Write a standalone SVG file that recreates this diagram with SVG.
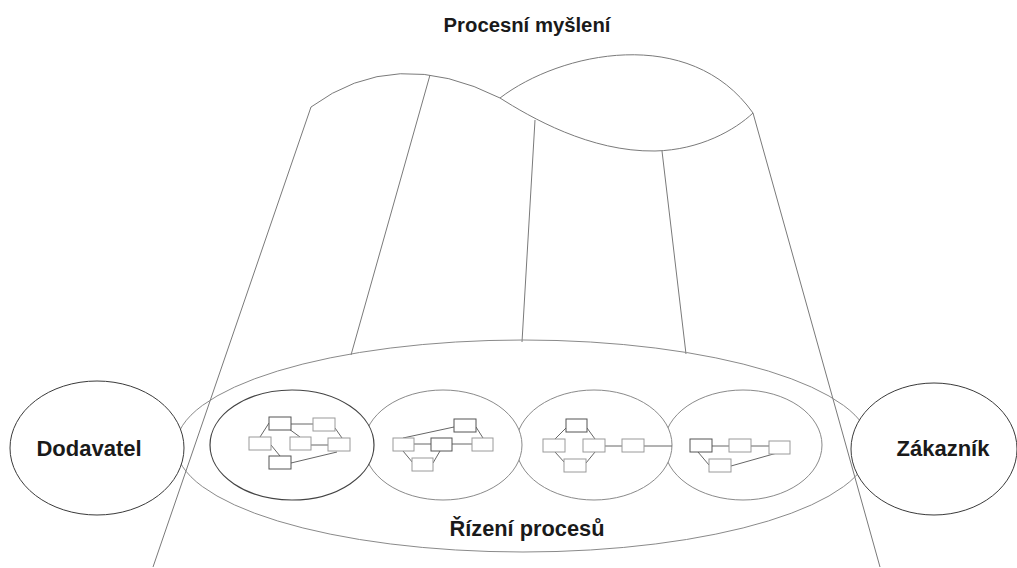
<svg xmlns="http://www.w3.org/2000/svg" width="1017" height="568" viewBox="0 0 1017 568">
<style>
.t{font-family:"Liberation Sans",Arial,sans-serif;font-weight:bold;fill:#1a1a1a;text-anchor:middle}
.ln{fill:none;stroke:#7a7a7a;stroke-width:1}
.big{fill:none;stroke:#8a8a8a;stroke-width:1}
.end{fill:#fff;stroke:#3a3a3a;stroke-width:1}
.c{fill:#fff;stroke:#8a8a8a;stroke-width:1}
.c1{fill:#fff;stroke:#444;stroke-width:1.2}
.r{fill:#fff;stroke:#9a9a9a;stroke-width:1}
.rd{fill:#fff;stroke:#555;stroke-width:1}
.k{stroke:#666;stroke-width:1;fill:none}
</style>
<rect width="1017" height="568" fill="#fff"/>
<text class="t" x="527" y="32" font-size="20.3">Procesní myšlení</text>
<g id="funnel">
<path class="ln" d="M311,107 Q395,45 500,98 C530,117 590,152 655,151 C700,150 735,130 753,113"/>
<path class="ln" d="M500,98 C560,52 690,24 753,113"/>
<line class="ln" x1="311" y1="107" x2="153" y2="567"/>
<line class="ln" x1="753" y1="113" x2="880" y2="567"/>
<line class="ln" x1="430" y1="75" x2="351" y2="355"/>
<line class="ln" x1="535" y1="120" x2="522" y2="342"/>
<line class="ln" x1="662" y1="151" x2="686" y2="354"/>
</g>
<g id="rizeni">
<ellipse class="big" cx="523" cy="446" rx="347" ry="106"/>
<text class="t" x="527" y="536" font-size="21.8">Řízení procesů</text>
</g>
<g id="dodavatel">
<ellipse class="end" cx="97" cy="448" rx="87" ry="67"/>
<text class="t" x="89" y="456" font-size="22">Dodavatel</text>
</g>
<g id="zakaznik">
<ellipse class="end" cx="934" cy="449" rx="83" ry="66"/>
<text class="t" x="943" y="456" font-size="22">Zákazník</text>
</g>
<g id="proces4">
<ellipse class="c" cx="743" cy="445" rx="79" ry="55"/>
<g class="k"><line x1="712" y1="446" x2="729" y2="446"/><line x1="751" y1="446" x2="769" y2="446"/><line x1="698" y1="452" x2="709" y2="465"/><line x1="731" y1="466" x2="777" y2="453"/></g>
<rect class="rd" x="690" y="439" width="22" height="13"/>
<rect class="r" x="729" y="439" width="22" height="13"/>
<rect class="r" x="769" y="441" width="21" height="13"/>
<rect class="r" x="709" y="459" width="22" height="13"/>
</g>
<g id="proces3">
<ellipse class="c" cx="594" cy="445" rx="78" ry="55"/>
<g class="k"><line x1="566" y1="428" x2="555" y2="439"/><line x1="587" y1="428" x2="595" y2="439"/><line x1="555" y1="452" x2="565" y2="463"/><line x1="595" y1="452" x2="586" y2="463"/><line x1="605" y1="446" x2="622" y2="446"/><line x1="644" y1="446" x2="672" y2="446"/></g>
<rect class="rd" x="566" y="419" width="21" height="13"/>
<rect class="r" x="543" y="439" width="22" height="13"/>
<rect class="r" x="583" y="439" width="22" height="13"/>
<rect class="r" x="622" y="439" width="22" height="13"/>
<rect class="r" x="564" y="459" width="22" height="13"/>
</g>
<g id="proces2">
<ellipse class="c" cx="443" cy="445" rx="79" ry="55"/>
<g class="k"><line x1="403" y1="438" x2="454" y2="427"/><line x1="414" y1="444" x2="431" y2="444"/><line x1="452" y1="444" x2="472" y2="444"/><line x1="476" y1="427" x2="483" y2="438"/><line x1="403" y1="451" x2="413" y2="463"/><line x1="440" y1="451" x2="433" y2="463"/></g>
<rect class="rd" x="454" y="419" width="22" height="13"/>
<rect class="r" x="393" y="438" width="21" height="13"/>
<rect class="rd" x="431" y="438" width="21" height="13"/>
<rect class="r" x="472" y="438" width="21" height="13"/>
<rect class="r" x="412" y="458" width="21" height="13"/>
</g>
<g id="proces1">
<ellipse class="c1" cx="292" cy="445" rx="82" ry="55"/>
<g class="k"><line x1="291" y1="424" x2="313" y2="424"/><line x1="269" y1="423" x2="260" y2="437"/><line x1="289" y1="429" x2="300" y2="437"/><line x1="335" y1="428" x2="342" y2="438"/><line x1="311" y1="445" x2="328" y2="445"/><line x1="271" y1="445" x2="280" y2="456"/><line x1="291" y1="463" x2="337" y2="452"/></g>
<rect class="rd" x="269" y="417" width="22" height="13"/>
<rect class="r" x="313" y="418" width="22" height="13"/>
<rect class="r" x="249" y="437" width="22" height="13"/>
<rect class="r" x="290" y="437" width="21" height="13"/>
<rect class="r" x="328" y="438" width="22" height="13"/>
<rect class="rd" x="269" y="456" width="22" height="13"/>
</g>
</svg>
